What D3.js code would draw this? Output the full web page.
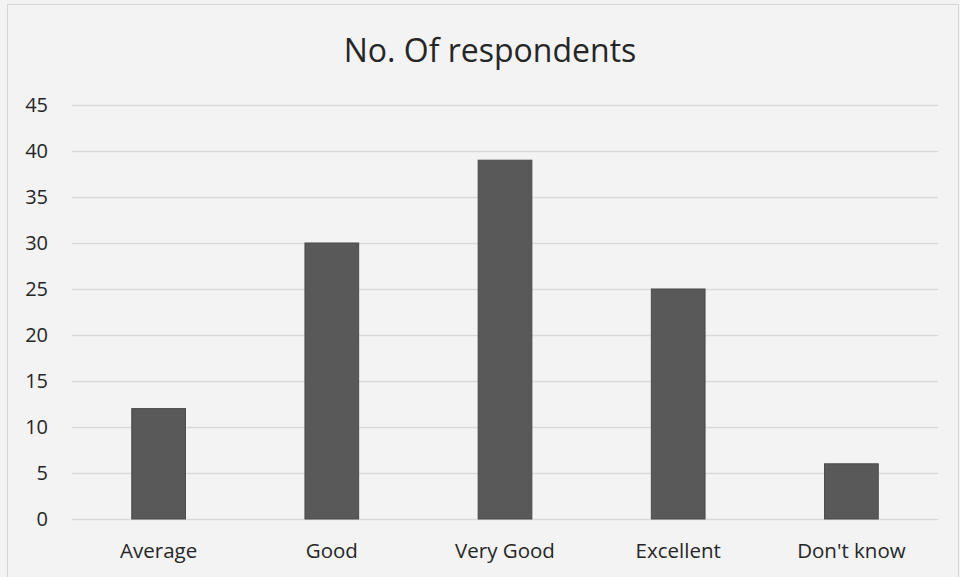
<!DOCTYPE html>
<html>
<head>
<meta charset="utf-8">
<script src="https://cdn.jsdelivr.net/npm/d3@7"></script>
<style>
  html, body { margin: 0; padding: 0; background: #f3f3f3; }
  svg { display: block; }
  text { font-family: "Open Sans", "Noto Sans", sans-serif; fill: #262626; }
</style>
</head>
<body>
<svg id="chart" width="960" height="577"></svg>
<script>
// Survey responses
const categories = ["Average", "Good", "Very Good", "Excellent", "Don't know"];
const respondents = [12, 30, 39, 25, 6];
const yTicks = [0, 5, 10, 15, 20, 25, 30, 35, 40, 45];
const title = "No. Of respondents";

const W = 960, H = 577;
const margin = { left: 72, right: 22, top: 105, bottom: 58 };

const svg = d3.select("#chart");

// chart frame
svg.append("rect")
  .attr("x", 7.5).attr("y", 4.5)
  .attr("width", W - 9).attr("height", H)
  .attr("fill", "#f3f3f3")
  .attr("stroke", "#d6d6d6")
  .attr("stroke-width", 1);

const x = d3.scaleBand()
  .domain(categories)
  .range([margin.left, W - margin.right])
  .paddingInner(0.69)
  .paddingOuter(0.345);

const y = d3.scaleLinear()
  .domain([0, 45])
  .range([H - margin.bottom, margin.top]);

// horizontal gridlines + y tick labels
const yAxis = d3.axisLeft(y)
  .tickValues(yTicks)
  .tickSize(-(W - margin.left - margin.right))
  .tickPadding(24)
  .tickFormat(d3.format("d"));

const gy = svg.append("g")
  .attr("transform", `translate(${margin.left},0)`)
  .call(yAxis);
gy.select(".domain").remove();
gy.selectAll(".tick line")
  .attr("stroke", "#dadada")
  .attr("stroke-width", 1.5);
gy.selectAll(".tick text")
  .attr("font-size", 20)
  .attr("fill", "#262626");

// bars
svg.append("g")
  .selectAll("rect")
  .data(categories)
  .join("rect")
  .attr("x", d => x(d))
  .attr("width", x.bandwidth())
  .attr("y", (d, i) => y(respondents[i]))
  .attr("height", (d, i) => y(0) - y(respondents[i]))
  .attr("fill", "#595959")
  .attr("stroke", "#4a4a4a")
  .attr("stroke-width", 1);

// category axis
const xAxis = d3.axisBottom(x).tickSize(0).tickPadding(24);
const gx = svg.append("g")
  .attr("transform", `translate(0,${y(0)})`)
  .call(xAxis);
gx.select(".domain").remove();
gx.selectAll(".tick text")
  .attr("font-size", 20.5)
  .attr("fill", "#262626");

// title
svg.append("text")
  .attr("x", 490)
  .attr("y", 62)
  .attr("text-anchor", "middle")
  .attr("font-size", 32)
  .text(title);
</script>
</body>
</html>
